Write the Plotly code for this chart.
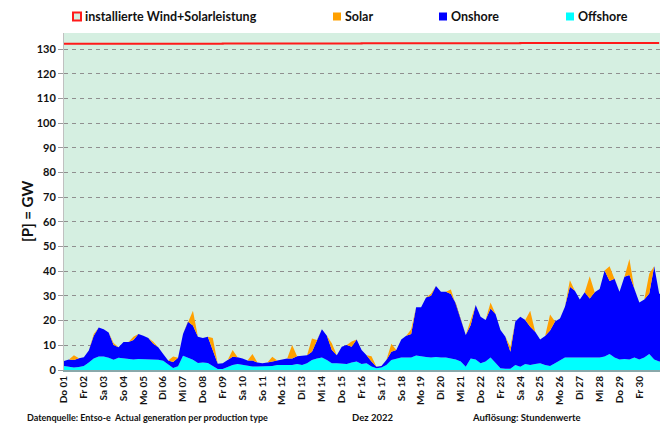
import pandas as pd
import plotly.graph_objects as go

day_labels = ["Do 01", "Fr 02", "Sa 03", "So 04", "Mo 05", "Di 06", "Mi 07", "Do 08",
              "Fr 09", "Sa 10", "So 11", "Mo 12", "Di 13", "Mi 14", "Do 15", "Fr 16",
              "Sa 17", "So 18", "Mo 19", "Di 20", "Mi 21", "Do 22", "Fr 23", "Sa 24",
              "So 25", "Mo 26", "Di 27", "Mi 28", "Do 29", "Fr 30", "Sa 31"]

# 6-hourly values (GW) from 2022-12-01 00:00
offshore = [1.6, 1.2, 1.0, 1.2, 1.6, 3.0, 4.7, 5.5, 5.5, 5.0, 4.2, 5.0,
            4.7, 4.7, 4.3, 4.5, 4.5, 4.3, 4.2, 4.2, 3.7, 2.2, 0.8, 1.5,
            5.8, 5.0, 4.2, 2.8, 3.0, 2.8, 1.5, 0.4, 0.4, 1.3, 2.0, 2.4,
            2.0, 1.6, 1.4, 1.4, 1.4, 1.4, 1.6, 2.0, 2.0, 2.0, 2.0, 2.4,
            2.0, 2.7, 4.0, 4.7, 5.1, 4.0, 2.7, 2.7, 2.7, 2.4, 3.0, 3.4,
            2.4, 2.7, 1.4, 0.7, 1.0, 2.0, 4.0, 4.7, 5.1, 5.1, 5.1, 5.9,
            5.5, 5.3, 5.1, 5.3, 5.1, 5.1, 4.7, 4.3, 3.4, 1.3, 4.7, 4.3,
            2.7, 3.4, 5.1, 2.7, 0.7, 0.5, 0.5, 2.0, 1.3, 2.4, 2.0, 2.4,
            2.7, 2.0, 1.6, 2.7, 4.0, 5.1, 5.1, 5.1, 5.1, 5.1, 5.1, 5.1,
            5.1, 5.5, 6.5, 5.1, 4.3, 4.5, 4.3, 5.1, 4.3, 5.1, 6.5, 4.3,
            3.4, 3.4]

onshore = [2.0, 3.1, 3.0, 3.6, 3.6, 4.9, 9.2, 11.7, 11.0, 10.2, 5.9, 4.2,
           6.6, 6.6, 7.9, 10.1, 9.4, 8.7, 6.4, 5.0, 2.8, 1.6, 2.4, 3.5,
           8.8, 14.5, 13.8, 10.7, 10.0, 10.7, 6.5, 2.1, 2.3, 2.8, 3.4, 2.8,
           2.7, 2.2, 2.4, 1.6, 1.3, 1.6, 1.8, 1.8, 2.3, 2.7, 2.7, 3.2,
           3.8, 3.3, 3.4, 7.5, 11.4, 9.9, 5.4, 3.3, 6.7, 7.7, 6.4, 9.0,
           5.7, 3.3, 2.0, 0.6, 0.6, 2.0, 3.4, 3.4, 7.3, 8.8, 9.5, 19.5,
           19.9, 24.1, 25.0, 28.7, 26.6, 26.6, 26.1, 22.6, 16.9, 12.9, 13.5, 22.0,
           18.9, 16.9, 19.8, 20.0, 15.5, 13.0, 6.9, 17.6, 20.3, 17.9, 15.5, 13.1,
           9.7, 11.8, 14.4, 16.9, 16.9, 20.5, 28.6, 27.0, 23.5, 26.4, 23.9, 26.4,
           27.7, 34.8, 29.5, 31.9, 27.4, 33.3, 34.2, 27.7, 23.0, 23.5, 24.5, 37.7,
           27.6, 26.6]

solar = [0, 0, 2.0, 0, 0, 0, 0.7, 0, 0, 0, 0.8, 0,
         0, 0, 1.3, 0, 0, 0, 0.8, 0, 0, 0, 2.3, 0,
         0, 0, 6.0, 0, 0, 0, 5.0, 0, 0, 0, 2.7, 0,
         0, 0, 2.7, 0, 0, 0, 2.0, 0, 0, 0, 5.4, 0,
         0, 0, 5.4, 0, 0, 0, 2.7, 0, 0, 0, 2.1, 0,
         0, 0, 2.2, 0, 0, 0, 3.2, 0, 0, 0, 1.9, 0,
         0, 0, 0.8, 0, 0, 0, 1.8, 0, 0, 0, 2.4, 0,
         0, 0, 2.4, 0, 0, 0, 2.0, 0, 0, 0, 6.5, 0,
         0, 0, 6.5, 0, 0, 0, 2.7, 0, 0, 0, 9.0, 0,
         0, 0, 6.0, 0, 0, 0, 6.5, 0, 0, 0, 8.0, 0,
         0, 0]

# installed wind + solar capacity, daily (GW)
installed = [132.1] * 8 + [132.2] * 7 + [132.3] * 8 + [132.4] * 8

times = pd.date_range("2022-12-01", periods=len(offshore), freq="6h")
days = pd.date_range("2022-12-01", periods=len(day_labels), freq="D")

FONT = "Lato"
C_OFF = "#00FFFF"
C_ON = "#0000FF"
C_SOL = "#FFA000"
C_RED = "#FF1A1A"

L, T, W_PLOT, H_PLOT = 64, 33, 596, 337   # plot area in page pixels


def px_x(px):
    return (px - L) / W_PLOT


def px_y(py):
    return 1 - (py - T) / H_PLOT


fig = go.Figure()
fig.add_trace(go.Scatter(x=times, y=offshore, name="Offshore", stackgroup="g",
                         mode="lines", line=dict(width=0, color=C_OFF),
                         fillcolor=C_OFF, showlegend=False))
fig.add_trace(go.Scatter(x=times, y=onshore, name="Onshore", stackgroup="g",
                         mode="lines", line=dict(width=0, color=C_ON),
                         fillcolor=C_ON, showlegend=False))
fig.add_trace(go.Scatter(x=times, y=solar, name="Solar", stackgroup="g",
                         mode="lines", line=dict(width=0, color=C_SOL),
                         fillcolor=C_SOL, showlegend=False))
fig.add_trace(go.Scatter(x=days, y=installed, name="installierte Wind+Solarleistung",
                         mode="lines", line=dict(width=2, color=C_RED, shape="hv"),
                         showlegend=False))

# legend drawn as text + squares
legend_items = [
    ("installierte Wind+Solarleistung", 73, "open", C_RED),
    ("Solar", 333, "fill", C_SOL),
    ("Onshore", 439, "fill", C_ON),
    ("Offshore", 566, "fill", C_OFF),
]
annotations = []
shapes = []
for text, px, kind, col in legend_items:
    box = dict(type="rect", xref="paper", yref="paper",
               x0=px_x(px), x1=px_x(px + 8), y0=px_y(20.5), y1=px_y(12.5))
    if kind == "open":
        box.update(line=dict(color=C_RED, width=2), fillcolor="#d6efe2")
    else:
        box.update(line=dict(width=0), fillcolor=col)
    shapes.append(box)
    annotations.append(dict(text=text, xref="paper", yref="paper",
                            x=px_x(px + 10), y=px_y(16.5),
                            xanchor="left", yanchor="middle", showarrow=False,
                            font=dict(family=FONT, size=12.5, color="#111", weight="bold")))

bottom = [
    ("Datenquelle: Entso-e  Actual generation per production type", 25, "left", 9),
    ("Dez 2022", 372, "center", 9.5),
    ("Auflösung: Stundenwerte", 470, "left", 9.5),
]
for text, px, anchor, fs in bottom:
    annotations.append(dict(text=text, xref="paper", yref="paper",
                            x=px_x(px), y=px_y(417),
                            xanchor=anchor, yanchor="middle", showarrow=False,
                            font=dict(family=FONT, size=fs, color="#111", weight="bold")))

# y-axis title
annotations.append(dict(text="[P] = GW", xref="paper", yref="paper",
                        x=px_x(27), y=px_y(212), textangle=-90,
                        xanchor="center", yanchor="middle", showarrow=False,
                        font=dict(family=FONT, size=15, color="#111", weight="bold")))

fig.update_layout(
    width=660, height=425,
    margin=dict(l=64, r=0, t=33, b=55),
    paper_bgcolor="white",
    plot_bgcolor="#d5efe1",
    showlegend=False,
    annotations=annotations,
    shapes=shapes,
    xaxis=dict(
        type="date",
        range=[days[0], days[-1] + pd.Timedelta(hours=1)],
        tickvals=list(days),
        ticktext=day_labels,
        tickangle=-90,
        tickfont=dict(family=FONT, size=10, color="#111", weight="bold"),
        showgrid=False,
        showline=True, linecolor="#8aa8aa", linewidth=2,
        ticks="",
        zeroline=False,
    ),
    yaxis=dict(
        range=[0, 136.5],
        tickvals=list(range(0, 131, 10)),
        tickfont=dict(family=FONT, size=11, color="#111", weight="bold"),
        showgrid=True, gridcolor="#8f8f8f", gridwidth=1, griddash="4px,4px",
        showline=True, linecolor="#c0c0c0", linewidth=1,
        ticks="outside", ticklen=5, tickcolor="#9a9a9a",
        zeroline=False,
    ),
)

fig.write_html("out.html",
               config={"displayModeBar": False},
               post_script="document.body.style.margin='0';document.body.style.overflow='hidden';")
